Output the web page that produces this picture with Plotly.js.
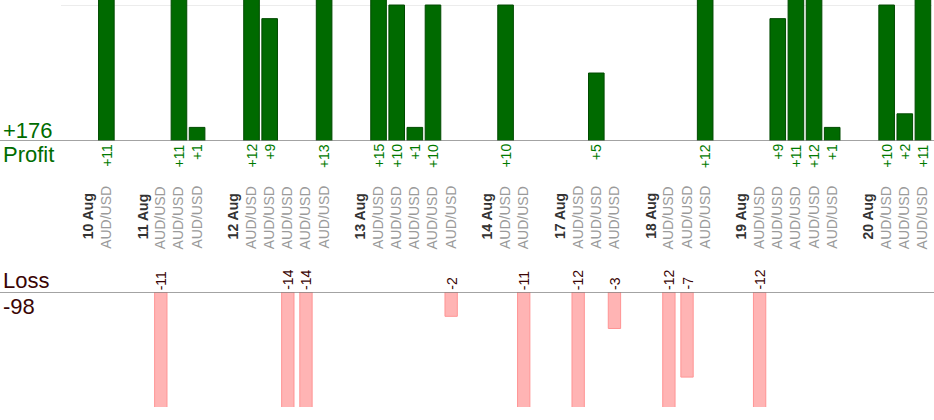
<!DOCTYPE html>
<html>
<head>
<meta charset="utf-8">
<script src="https://cdn.plot.ly/plotly-3.0.1.min.js"></script>
<style>html,body{margin:0;padding:0;background:#fff;}#chart{width:934px;height:420px;}</style>
</head>
<body>
<div id="chart"></div>
<script>
// ---- data ----
const days = ['10 Aug', '11 Aug', '12 Aug', '13 Aug', '14 Aug', '17 Aug', '18 Aug', '19 Aug', '20 Aug'];
const pair = 'AUD/USD';
const trades10Aug = [11];
const trades11Aug = [-11, 11, 1];
const trades12Aug = [12, 9, -14, -14, 13];
const trades13Aug = [15, 10, 1, 10, -2];
const trades14Aug = [10, -11];
const trades17Aug = [-12, 5, -3];
const trades18Aug = [-12, -7, 12];
const trades19Aug = [-12, 9, 11, 12, 1];
const trades20Aug = [10, 2, 11];
const dayTrades = [trades10Aug, trades11Aug, trades12Aug, trades13Aug, trades14Aug,
                   trades17Aug, trades18Aug, trades19Aug, trades20Aug];

// ---- layout of slots: [gap][date][trades...] per day ----
let slot = 0;
const dayX = [], tradeX = [], tradeV = [];
days.forEach((d, i) => {
  slot++;               // gap slot
  dayX.push(slot); slot++;
  dayTrades[i].forEach(v => { tradeX.push(slot); tradeV.push(v); slot++; });
});
const nSlots = slot;

const profX = [], profY = [], lossX = [], lossY = [];
tradeV.forEach((v, i) => {
  if (v > 0) { profX.push(tradeX[i]); profY.push(v); }
  else { lossX.push(tradeX[i]); lossY.push(v); }
});
const totalProfit = profY.reduce((a, b) => a + b, 0);
const totalLoss = lossY.reduce((a, b) => a + b, 0);

// ---- geometry ----
const W = 934, H = 420, ML = 61, MR = 2, MT = 0, MB = 13;
const PH = H - MT - MB, PW = W - ML - MR;
const py = px => (PH - (px - MT)) / PH;       // pixel y -> paper y
const pxX = px => (px - ML) / PW;              // pixel x -> paper x
const FONT = '"Liberation Sans", Arial, sans-serif';

const green = '#006c00', greenTxt = '#007a00', maroon = '#3a0505';

const traces = [
  { type: 'bar', x: profX, y: profY, width: 0.86, xaxis: 'x', yaxis: 'y',
    marker: { color: '#006a00', line: { color: '#004a00', width: 1 } }, hoverinfo: 'none' },
  { type: 'bar', x: lossX, y: lossY, width: 0.68, xaxis: 'x2', yaxis: 'y2',
    marker: { color: '#ffb4b4', line: { color: '#ff9494', width: 1 } }, hoverinfo: 'none' }
];

const ann = [];
profX.forEach((x, i) => ann.push({ x: x, y: 0, xref: 'x', yref: 'y', text: '+' + profY[i],
  textangle: -90, showarrow: false, yanchor: 'top', xanchor: 'center', yshift: -1,
  font: { family: FONT, size: 14, color: greenTxt } }));
lossX.forEach((x, i) => ann.push({ x: x, y: 0, xref: 'x2', yref: 'y2', text: String(lossY[i]),
  textangle: -90, showarrow: false, yanchor: 'bottom', xanchor: 'center', yshift: 0,
  font: { family: FONT, size: 14, color: maroon } }));
tradeX.forEach(x => ann.push({ x: x, y: py(251), xref: 'x', yref: 'paper', text: pair,
  textangle: -90, showarrow: false, yanchor: 'bottom', xanchor: 'center',
  font: { family: FONT, size: 14, color: '#9a9a9a' } }));
dayX.forEach((x, i) => ann.push({ x: x, y: py(241), xref: 'x', yref: 'paper', text: '<b>' + days[i] + '</b>',
  textangle: -90, showarrow: false, yanchor: 'bottom', xanchor: 'center',
  font: { family: FONT, size: 14, color: '#333333' } }));

const sideLabel = (text, topPx, color) => ({ x: pxX(1), y: py(topPx), xref: 'paper', yref: 'paper',
  text: text, showarrow: false, xanchor: 'left', yanchor: 'top',
  font: { family: FONT, size: 22, color: color } });
ann.push(sideLabel('+' + totalProfit, 115.5, green));
ann.push(sideLabel('Profit', 140, green));
ann.push(sideLabel('Loss', 265.5, maroon));
ann.push(sideLabel(String(totalLoss), 291.5, maroon));

const profDomain = [py(141), 1];
const lossDomain = [0, py(292)];

const layout = {
  width: W, height: H,
  margin: { l: ML, r: MR, t: MT, b: MB },
  paper_bgcolor: '#fff', plot_bgcolor: '#fff',
  showlegend: false, bargap: 0,
  xaxis: { range: [-0.5, nSlots - 0.5], anchor: 'y', showticklabels: false, showgrid: false,
           zeroline: false, showline: false, ticks: '' },
  xaxis2: { range: [-0.5, nSlots - 0.5], anchor: 'y2', showticklabels: false, showgrid: false,
            zeroline: false, showline: false, ticks: '' },
  yaxis: { domain: profDomain, range: [0, 10.37], dtick: 10, showticklabels: false,
           showgrid: true, gridcolor: '#ececec', gridwidth: 1, zeroline: false, ticks: '' },
  yaxis2: { domain: lossDomain, range: [-9.46, 0], showticklabels: false, showgrid: false,
            zeroline: false, ticks: '' },
  shapes: [
    { type: 'line', xref: 'paper', yref: 'y', x0: pxX(0), x1: pxX(W), y0: 0, y1: 0,
      line: { color: '#858585', width: 1.5 } },
    { type: 'line', xref: 'paper', yref: 'y2', x0: pxX(0), x1: pxX(W), y0: 0, y1: 0,
      line: { color: '#858585', width: 1.5 } }
  ],
  annotations: ann
};

Plotly.newPlot('chart', traces, layout, { displayModeBar: false, staticPlot: true });
</script>
</body>
</html>
